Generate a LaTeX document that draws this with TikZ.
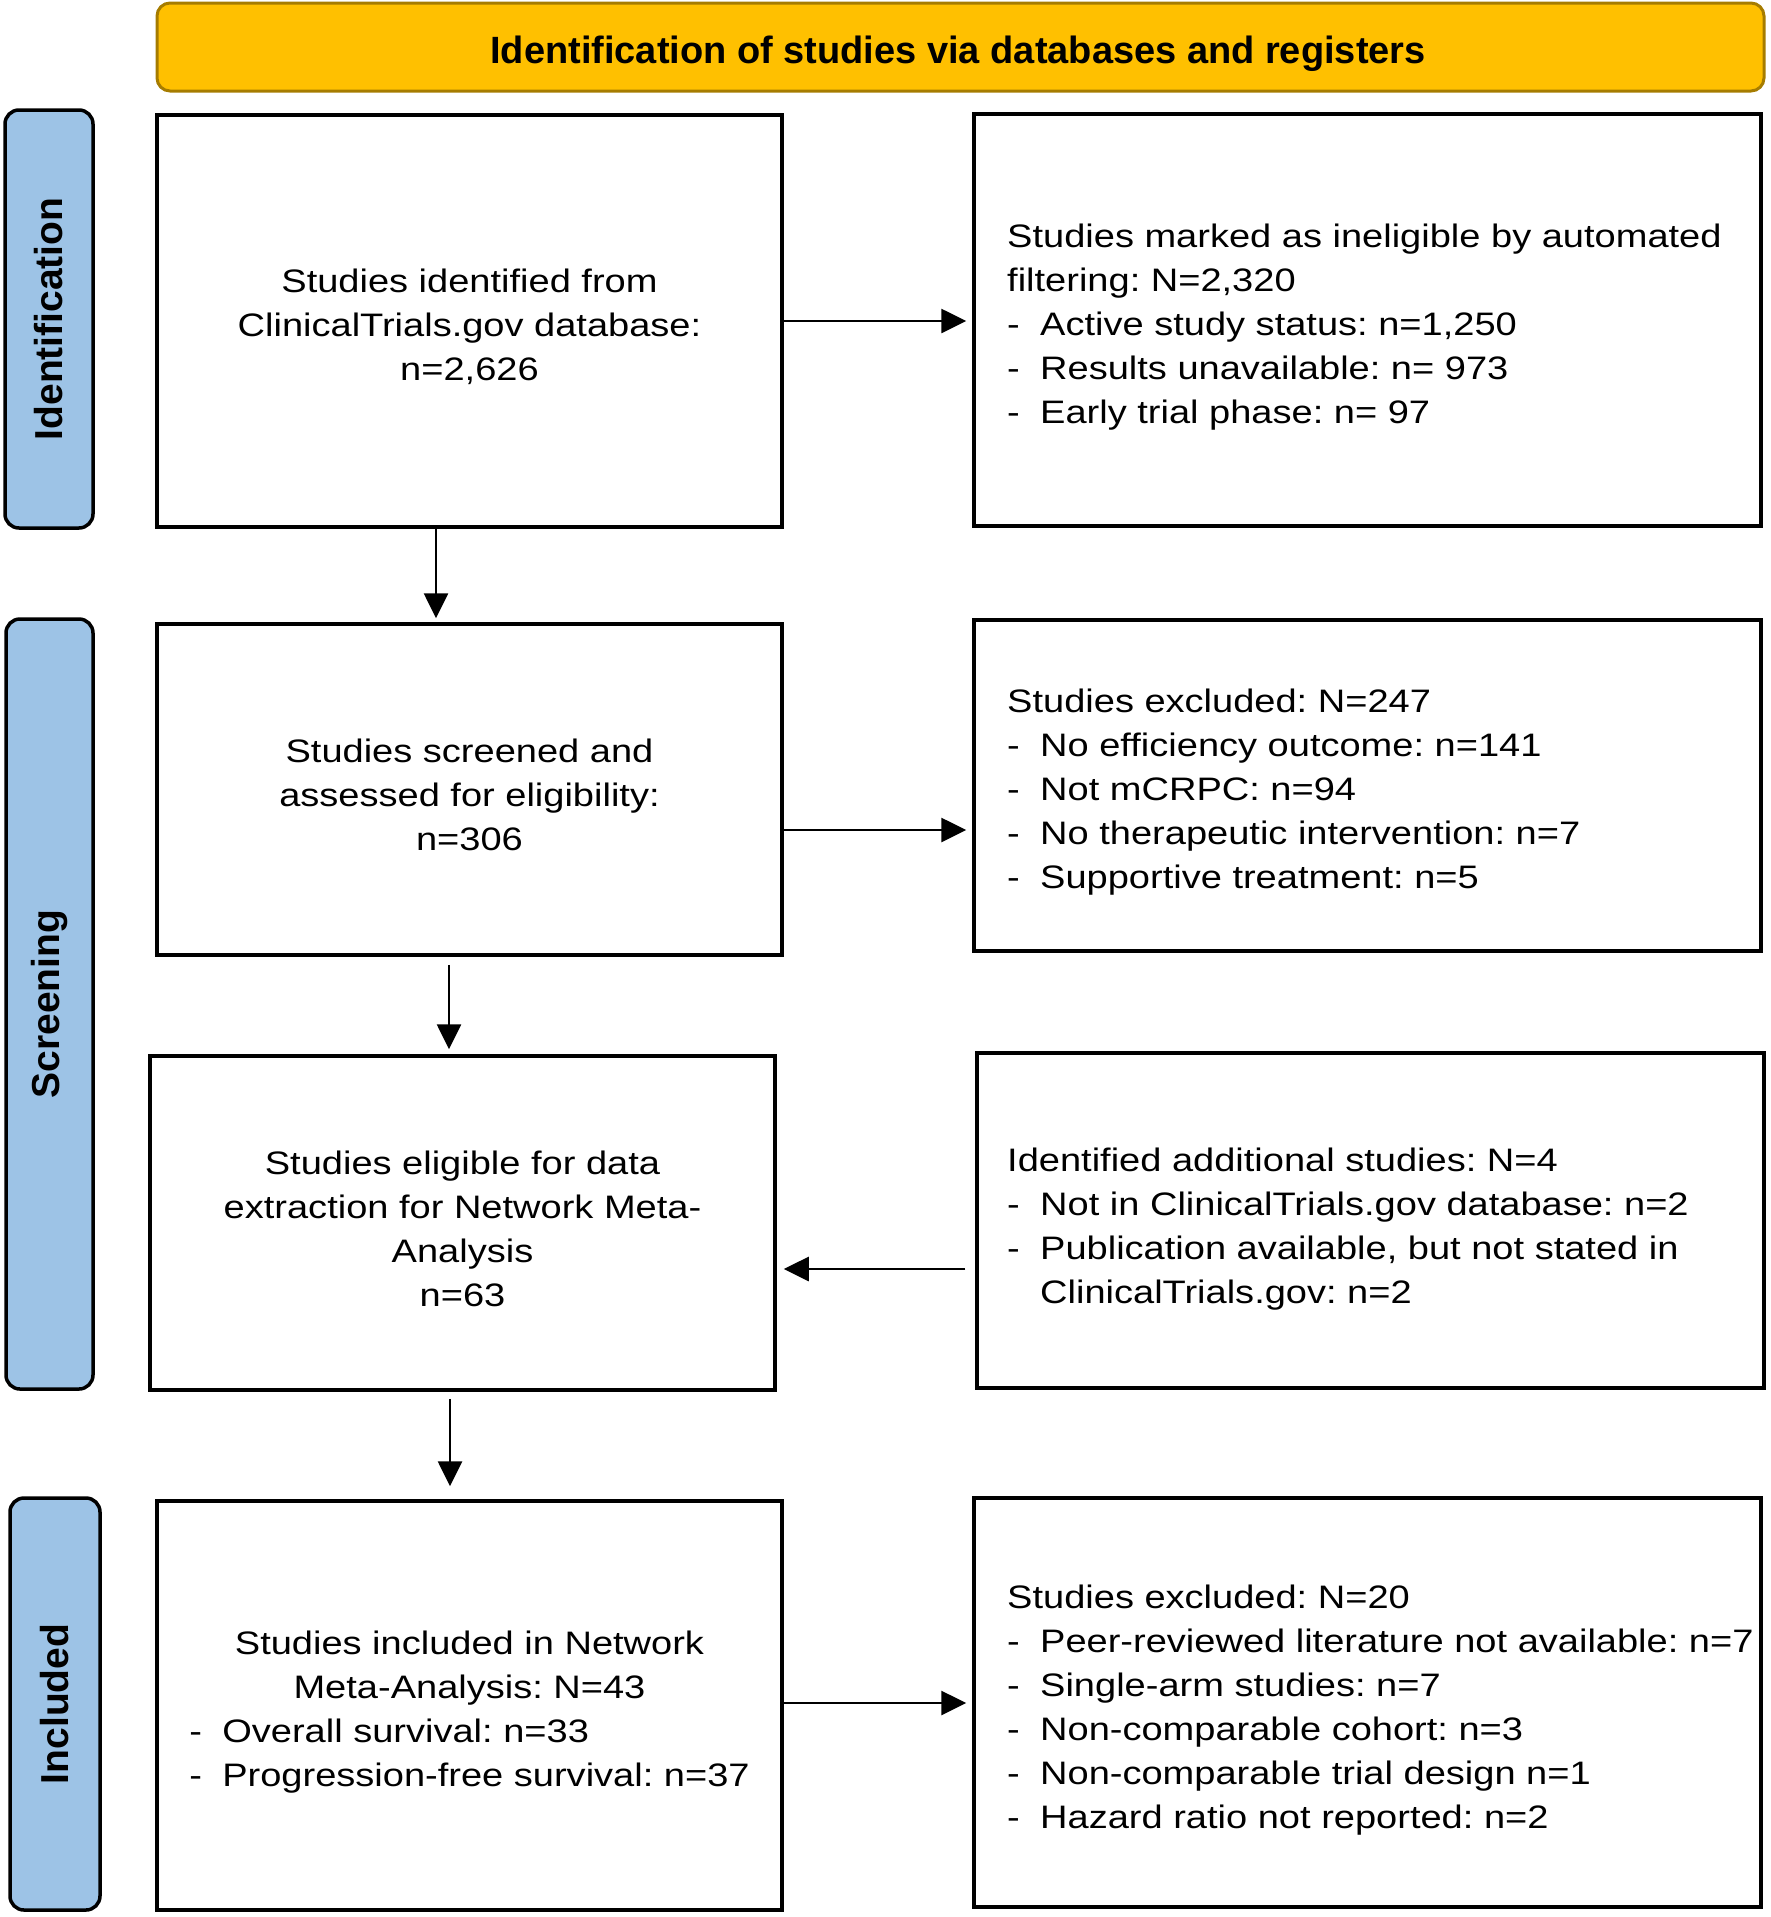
\documentclass[tikz,border=0pt]{standalone}
\usepackage{fontspec}
\setmainfont{Liberation Sans}
\newfontfamily\bodyf{Liberation Sans}[FakeStretch=1.17]
\usetikzlibrary{arrows.meta}
\definecolor{bannerfill}{HTML}{FFC000}
\definecolor{bannerline}{HTML}{A67C00}
\definecolor{barfill}{HTML}{9DC3E6}
\newcommand{\dd}{\makebox[33pt][l]{-}}
\begin{document}
\frenchspacing
\begin{tikzpicture}[x=1pt,y=-1pt,
  box/.style={draw, line width=3.5pt, inner sep=0pt, fill=white},
  phase/.style={draw, line width=3.5pt, rounded corners=14pt, fill=barfill, inner sep=0pt},
  phaselabel/.style={rotate=90, inner sep=0pt, font=\bfseries\fontsize{39}{44}\selectfont},
  banner/.style={draw=bannerline, line width=3pt, rounded corners=13pt, fill=bannerfill, inner sep=0pt},
  bannertext/.style={inner sep=0pt, font=\bfseries\fontsize{38}{44}\selectfont},
  body/.style={inner sep=0pt, font=\bodyf\fontsize{32.5}{44}\selectfont\frenchspacing},
  arr/.style={line width=2.7pt, -{Triangle[length=25pt,width=24pt]}}]
\useasboundingbox (0,0) rectangle (1770,1917);

% banner
\node[banner, minimum width=1607pt, minimum height=88pt] (ban) at (960.5,47) {};
\node[bannertext] (bant) at (958,54) {Identification of studies via databases and registers};

% phase bars
\node[phase, minimum width=88pt, minimum height=418pt] (p1) at (49,319) {};
\node[phaselabel] (p1t) at (p1) {Identification};
\node[phase, minimum width=87pt, minimum height=770pt] (p2) at (49.5,1004) {};
\node[phaselabel] (p2t) at (p2) {Screening};
\node[phase, minimum width=90pt, minimum height=412pt] (p3) at (55,1704) {};
\node[phaselabel] (p3t) at (p3) {Included};

% boxes
\node[box, minimum width=625pt, minimum height=412pt] (b1) at (469.5,321) {};
\node[box, minimum width=787pt, minimum height=412pt] (r1) at (1367.5,320) {};
\node[box, minimum width=625pt, minimum height=331pt] (b2) at (469.5,789.5) {};
\node[box, minimum width=787pt, minimum height=331pt] (r2) at (1367.5,785.5) {};
\node[box, minimum width=625pt, minimum height=334pt] (b3) at (462.5,1223) {};
\node[box, minimum width=787pt, minimum height=335pt] (r3) at (1370.5,1220.5) {};
\node[box, minimum width=625pt, minimum height=409pt] (b4) at (469.5,1705.5) {};
\node[box, minimum width=787pt, minimum height=409pt] (r4) at (1367.5,1702.5) {};

% texts
\node[body, align=center] (b1t) at (469.5,327) {Studies identified from\\ClinicalTrials.gov database:\\n=2,626};
\node[body, align=left, anchor=west] (r1t) at (1007,327) {Studies marked as ineligible by automated\\filtering: N=2,320\\\dd Active study status: n=1,250\\\dd Results unavailable: n= 973\\\dd Early trial phase: n= 97};
\node[body, align=center] (b2t) at (469.5,795) {Studies screened and\\assessed for eligibility:\\n=306};
\node[body, align=left, anchor=west] (r2t) at (1007,792) {Studies excluded: N=247\\\dd No efficiency outcome: n=141\\\dd Not mCRPC: n=94\\\dd No therapeutic intervention: n=7\\\dd Supportive treatment: n=5};
\node[body, align=center] (b3t) at (462.5,1229) {Studies eligible for data\\extraction for Network Meta-\\Analysis\\n=63};
\node[body, align=left, anchor=west] (r3t) at (1007,1229) {Identified additional studies: N=4\\\dd Not in ClinicalTrials.gov database: n=2\\\dd Publication available, but not stated in\\\hspace*{33pt}ClinicalTrials.gov: n=2};
\node[body] (b4t) at (469.5,1712) {\begin{tabular}{@{}l@{}}\multicolumn{1}{@{}c@{}}{Studies included in Network}\\\multicolumn{1}{@{}c@{}}{Meta-Analysis: N=43}\\\dd Overall survival: n=33\\\dd Progression-free survival: n=37\end{tabular}};
\node[body, align=left, anchor=west] (r4t) at (1007,1710) {Studies excluded: N=20\\\dd Peer-reviewed literature not available: n=7\\\dd Single-arm studies: n=7\\\dd Non-comparable cohort: n=3\\\dd Non-comparable trial design n=1\\\dd Hazard ratio not reported: n=2};

% helper coordinates
\coordinate (y1) at (0,321);
\coordinate (y2) at (0,830);
\coordinate (y3) at (0,1269);
\coordinate (y4) at (0,1703);
\coordinate (x1) at (436,0);
\coordinate (x2) at (449,0);
\coordinate (x3) at (450,0);

% horizontal arrows
\draw[arr, shorten >=6pt] (b1.east |- y1) -- (r1.west |- y1);
\draw[arr, shorten >=6pt] (b2.east |- y2) -- (r2.west |- y2);
\draw[arr, shorten <=10pt, shorten >=7pt] (r3.west |- y3) -- (b3.east |- y3);
\draw[arr, shorten >=6pt] (b4.east |- y4) -- (r4.west |- y4);

% vertical arrows
\draw[arr, shorten >=4pt] (b1.south -| x1) -- (b2.north -| x1);
\draw[arr, shorten <=8pt, shorten >=5pt] (b2.south -| x2) -- (b3.north -| x2);
\draw[arr, shorten <=7pt, shorten >=13pt] (b3.south -| x3) -- (b4.north -| x3);
\end{tikzpicture}
\end{document}
